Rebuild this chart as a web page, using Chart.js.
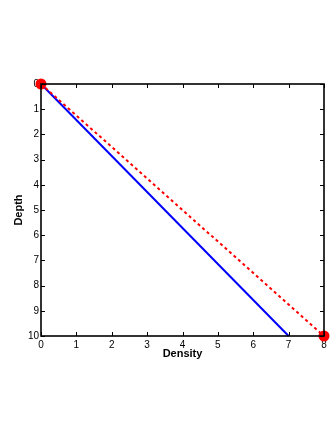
<!DOCTYPE html>
<html>
<head>
<meta charset="utf-8">
<script src="https://cdn.jsdelivr.net/npm/chart.js@4.4.0/dist/chart.umd.min.js"></script>
<style>
  html, body { margin: 0; padding: 0; background: #fff; }
  canvas { display: block; }
</style>
</head>
<body>
<canvas id="c" width="332" height="430"></canvas>
<script>
// density vs depth profiles
const densityBlue = [0, 7];
const depthBlue = [0, 10];
const densityRed = [0, 8];
const depthRed = [0, 10];
const xTicks = [0, 1, 2, 3, 4, 5, 6, 7, 8];
const yTicks = [0, 1, 2, 3, 4, 5, 6, 7, 8, 9, 10];

const FONT = 'Liberation Sans, Arial, Helvetica, sans-serif';

function toPoints(xs, ys) {
    return xs.map((x, i) => ({ x: x, y: ys[i] }));
}

// box around the plot plus inward tick marks on every side
const framePlugin = {
    id: 'frame',
    afterDraw(chart) {
        const ctx = chart.ctx;
        const a = chart.chartArea;
        const xs = chart.scales.x, ys = chart.scales.y;
        const len = 4;
        ctx.save();
        ctx.strokeStyle = '#000';
        ctx.lineWidth = 1;
        ctx.beginPath();
        xTicks.forEach(v => {
            const px = Math.round(xs.getPixelForValue(v)) + 0.5;
            ctx.moveTo(px, a.bottom); ctx.lineTo(px, a.bottom - len);
            ctx.moveTo(px, a.top); ctx.lineTo(px, a.top + len);
        });
        yTicks.forEach(v => {
            const py = Math.round(ys.getPixelForValue(v)) + 0.5;
            ctx.moveTo(a.left, py); ctx.lineTo(a.left + len, py);
            ctx.moveTo(a.right, py); ctx.lineTo(a.right - len, py);
        });
        ctx.stroke();
        ctx.lineWidth = 1.6;
        ctx.strokeRect(a.left, a.top, a.right - a.left, a.bottom - a.top);
        ctx.restore();
    }
};

new Chart(document.getElementById('c'), {
    type: 'scatter',
    data: {
        datasets: [{
            data: toPoints(densityBlue, depthBlue),
            showLine: true,
            borderColor: '#0000ff',
            borderWidth: 2,
            pointRadius: 0,
            fill: false,
            clip: false,
            order: 2
        }, {
            data: toPoints(densityRed, depthRed),
            showLine: true,
            borderColor: '#ff0000',
            borderWidth: 2,
            borderDash: [3, 3],
            pointRadius: 4.5,
            pointBackgroundColor: '#ff0000',
            pointBorderColor: '#ff0000',
            fill: false,
            clip: false,
            order: 1
        }]
    },
    options: {
        responsive: false,
        animation: false,
        layout: { padding: { left: 0, top: 84, right: 8, bottom: 0 } },
        plugins: {
            legend: { display: false },
            tooltip: { enabled: false }
        },
        scales: {
            x: {
                type: 'linear',
                min: 0,
                max: 8,
                grid: { display: false, drawTicks: false },
                border: { display: false },
                afterFit(scale) { scale.height = 94; },
                afterBuildTicks(scale) { scale.ticks = xTicks.map(v => ({ value: v })); },
                ticks: {
                    padding: 3,
                    color: '#000',
                    font: { family: FONT, size: 10 }
                },
                title: {
                    display: true,
                    text: 'Density',
                    color: '#000',
                    font: { family: FONT, size: 11, weight: 'bold' },
                    padding: { top: 0, bottom: 69 }
                }
            },
            y: {
                type: 'linear',
                min: 0,
                max: 10,
                reverse: true,
                grid: { display: false, drawTicks: false },
                border: { display: false },
                afterFit(scale) { scale.width = 41; },
                afterBuildTicks(scale) { scale.ticks = yTicks.map(v => ({ value: v })); },
                ticks: {
                    padding: 2,
                    color: '#000',
                    font: { family: FONT, size: 10 }
                },
                title: {
                    display: true,
                    text: 'Depth',
                    color: '#000',
                    font: { family: FONT, size: 11, weight: 'bold' },
                    padding: { top: 12, bottom: 0 }
                }
            }
        }
    },
    plugins: [framePlugin]
});
</script>
</body>
</html>
